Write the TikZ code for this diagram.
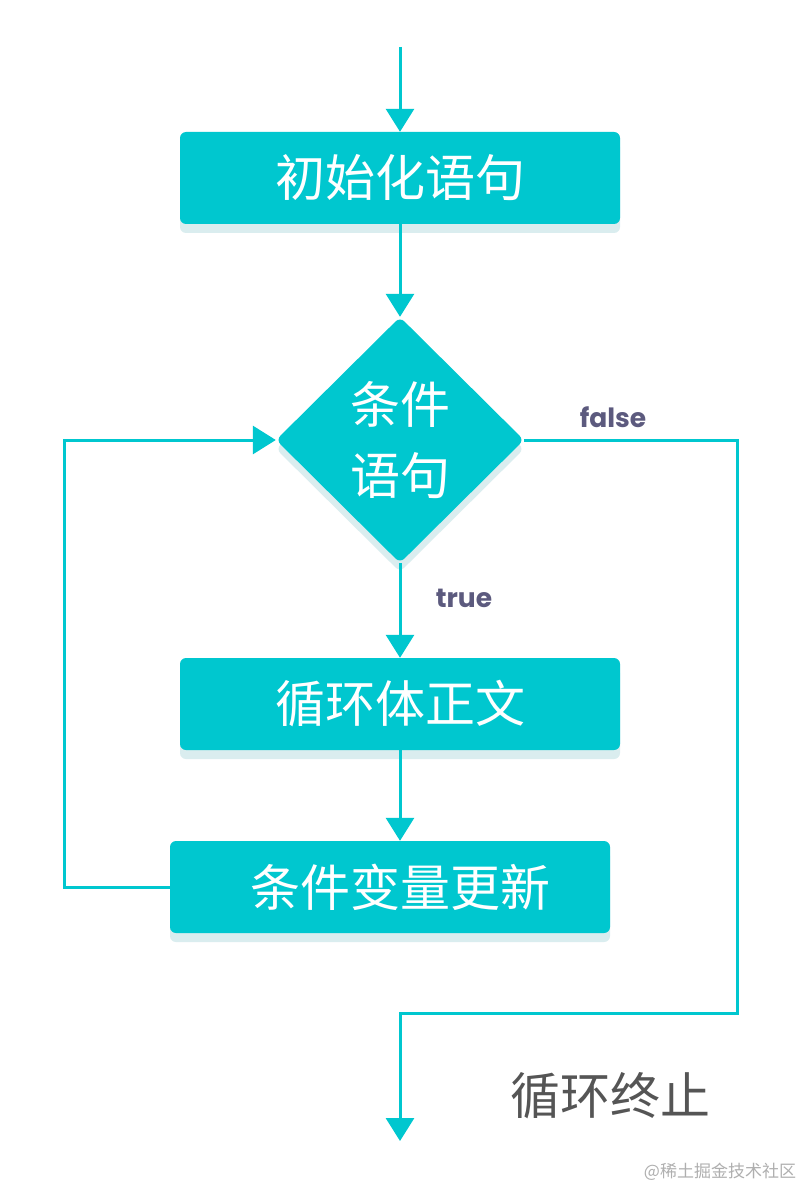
\documentclass[tikz,border=0pt]{standalone}
\usepackage{fontspec}
\newfontfamily\cjk{Noto Sans CJK SC}
\newfontfamily\pop{Poppins}
\usetikzlibrary{arrows.meta,shapes.geometric,shadows}
\definecolor{teal1}{RGB}{0,199,207}
\definecolor{lab}{RGB}{92,90,126}
\definecolor{shd}{RGB}{150,205,210}
\definecolor{endcol}{RGB}{85,85,85}
\definecolor{wmcol}{RGB}{175,175,175}
\begin{document}
\begin{tikzpicture}[x=1pt,y=-1pt,
  boxstyle/.style={draw=none,fill=teal1,rounded corners=6pt,minimum width=440pt,minimum height=92pt,
    inner sep=0pt,text=white,font=\cjk\fontsize{50}{60}\selectfont,
    drop shadow={opacity=0.35,shadow xshift=0pt,shadow yshift=-9pt,fill=shd}},
  decstyle/.style={diamond,draw=none,fill=teal1,rounded corners=6pt,minimum width=248pt,minimum height=246pt,
    inner sep=0pt,text=white,align=center,font=\cjk\fontsize{50}{71}\selectfont,
    drop shadow={opacity=0.35,shadow xshift=0pt,shadow yshift=-9pt,fill=shd}},
  flow/.style={draw=teal1,line width=3pt,-{Triangle[width=28pt,length=23pt]}},
  lbl/.style={text=lab,font=\pop\bfseries\fontsize{26.5}{30}\selectfont,inner sep=0pt}
]
\fill[white] (0,0) rectangle (801,1190);
\useasboundingbox (0,0) rectangle (801,1190);

\coordinate (start) at (400,47);
\node[boxstyle] (init) at (400,178) {初始化语句};
\node[decstyle] (cond) at (400,440) {条件\\语句};
\node[boxstyle] (body) at (400,704) {循环体正文};
\node[boxstyle,text width=440pt,align=center] (upd) at (390,887) {\hspace*{20pt}条件变量更新};

\coordinate (lp) at (64,887);
\coordinate (fb) at (737,1013);
\coordinate (fl) at (400,1013);
\coordinate (stop) at (400,1141);

\draw[flow] (start) -- (init.north);
\draw[flow] (init.south) -- (cond.north);
\draw[flow] (cond.south) -- (body.north);
\draw[flow] (body.south) -- (body.south |- upd.north);
\draw[flow] (upd.west) -- (upd.west -| lp) |- (cond.west);
\draw[flow] (cond.east) -- (cond.east -| fb) -- (fb) -- (fl) -- (stop);

\node[lbl] (flab) at (613,417) {false};
\node[lbl] (tlab) at (464,598) {true};
\node[text=endcol,font=\cjk\fontsize{50}{60}\selectfont,inner sep=0pt] (endt) at (610,1096) {循环终止};
\node[text=wmcol,font=\cjk\fontsize{17}{20}\selectfont,inner sep=0pt] (wm) at (720,1172) {@稀土掘金技术社区};
\end{tikzpicture}
\end{document}
